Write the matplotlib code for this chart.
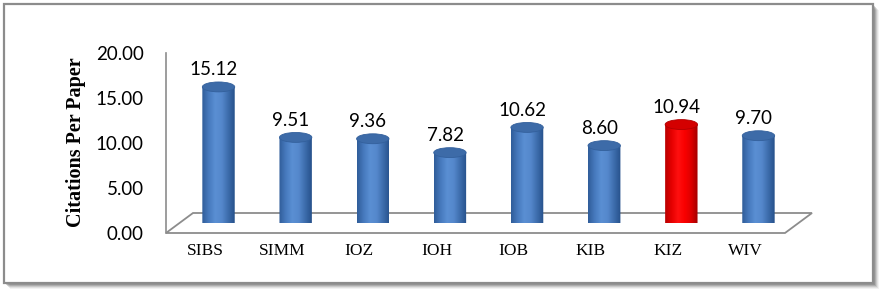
import numpy as np
import matplotlib.pyplot as plt
from matplotlib.colors import LinearSegmentedColormap
from matplotlib.patches import Ellipse, Polygon, Rectangle, PathPatch
from matplotlib.path import Path

institutes = ["SIBS", "SIMM", "IOZ", "IOH", "IOB", "KIB", "KIZ", "WIV"]
citations_per_paper = [15.12, 9.51, 9.36, 7.82, 10.62, 8.60, 10.94, 9.70]
highlight = "KIZ"
y_ticks = [0, 5, 10, 15, 20]

W, H, DPI = 885, 295, 100

# plot area (front plane) in pixels, and the depth of the floor
FRONT_L, FRONT_R, FRONT_B, FRONT_T = 166, 785, 233, 53
DEPTH_X, DEPTH_Y = 27, 20
XLIM = (-0.506, 7.519)
BAR_W = 0.42
CAP_H = 1.1

NUM_FONT = ["Lato", "DejaVu Sans"]
SERIF = ["Liberation Serif", "DejaVu Serif"]

blue_cmap = LinearSegmentedColormap.from_list(
    "cyl_blue", ["#2f5c98", "#4679bd", "#5a8fd3", "#5588cc", "#3c6cab", "#26508a"])
red_cmap = LinearSegmentedColormap.from_list(
    "cyl_red", ["#b80000", "#e50000", "#ff1010", "#fa0000", "#dc0000", "#a00000"])


def fx(px):
    return px / W


def fy(py):
    return 1 - py / H


fig = plt.figure(figsize=(W / DPI, H / DPI), dpi=DPI)
fig.patch.set_facecolor("white")

# frame, shadow and floor, in pixel coordinates
deco = fig.add_axes([0, 0, 1, 1], zorder=0)
deco.set_xlim(0, W)
deco.set_ylim(H, 0)
deco.axis("off")
for d, a in [(6, 0.08), (5, 0.12), (4, 0.18), (3, 0.25), (2, 0.3)]:
    deco.add_patch(Rectangle((4 + d, 4 + d), 869, 279, facecolor="#606060",
                             edgecolor="none", alpha=a))
deco.add_patch(Rectangle((4, 4), 869, 279, facecolor="white",
                         edgecolor="#8c8c8c", linewidth=1.6))
floor = [(FRONT_L, FRONT_B), (FRONT_R, FRONT_B),
         (FRONT_R + DEPTH_X, FRONT_B - DEPTH_Y), (FRONT_L + DEPTH_X, FRONT_B - DEPTH_Y)]
deco.add_patch(Polygon(floor, closed=True, facecolor="white",
                       edgecolor="#8c8c8c", linewidth=1.3))

# front plane: value axis and category labels
axf = fig.add_axes([fx(FRONT_L), fy(FRONT_B), (FRONT_R - FRONT_L) / W,
                    (FRONT_B - FRONT_T) / H], zorder=1)
axf.patch.set_visible(False)
axf.set_xlim(*XLIM)
axf.set_ylim(0, 20)
for s in ["top", "right", "bottom"]:
    axf.spines[s].set_visible(False)
axf.spines["left"].set_color("#8c8c8c")
axf.spines["left"].set_linewidth(1.2)
axf.set_yticks(y_ticks)
axf.set_yticklabels([f"{t:.2f}" for t in y_ticks], family=NUM_FONT, fontsize=13.5)
axf.set_xticks(range(len(institutes)))
axf.set_xticklabels(institutes, family=SERIF, fontsize=12.5)
axf.tick_params(axis="y", length=0, pad=16)
axf.tick_params(axis="x", length=0, pad=7)

# bars sit half way back on the floor
ax = fig.add_axes([fx(FRONT_L + DEPTH_X / 2), fy(FRONT_B - DEPTH_Y / 2),
                   (FRONT_R - FRONT_L) / W, (FRONT_B - FRONT_T) / H], zorder=2)
ax.patch.set_visible(False)
ax.axis("off")

grad = np.linspace(0, 1, 256)[None, :]
theta = np.linspace(np.pi, 2 * np.pi, 40)
for i, (name, v) in enumerate(zip(institutes, citations_per_paper)):
    is_hl = name == highlight
    cmap = red_cmap if is_hl else blue_cmap
    x0, x1 = i - BAR_W / 2, i + BAR_W / 2
    verts = [(x0, v)] + list(zip(i + BAR_W / 2 * np.cos(theta),
                                 CAP_H / 2 * np.sin(theta))) + [(x1, v), (x0, v)]
    clip = PathPatch(Path(verts, closed=True), transform=ax.transData,
                     facecolor="none", edgecolor="none")
    im = ax.imshow(grad, cmap=cmap, extent=[x0, x1, -CAP_H / 2, v], aspect="auto",
                   interpolation="bicubic", zorder=2)
    im.set_clip_path(clip)
    ax.add_patch(Ellipse((i, v), BAR_W, CAP_H,
                         facecolor="#d40000" if is_hl else "#3d6ba8",
                         edgecolor="#b00000" if is_hl else "#33609c",
                         linewidth=0.6, zorder=3))
    ax.annotate(f"{v:.2f}", (i, v), xytext=(-3.5, 12.5), textcoords="offset points",
                ha="center", va="center", family=NUM_FONT, fontsize=13.5)

ax.set_xlim(*XLIM)
ax.set_ylim(0, 20)

fig.text(fx(76), fy(142), "Citations Per Paper", rotation=90, ha="center",
         va="center", family=SERIF, fontsize=14.5, weight="bold")

fig.savefig("out.png", dpi=DPI)
